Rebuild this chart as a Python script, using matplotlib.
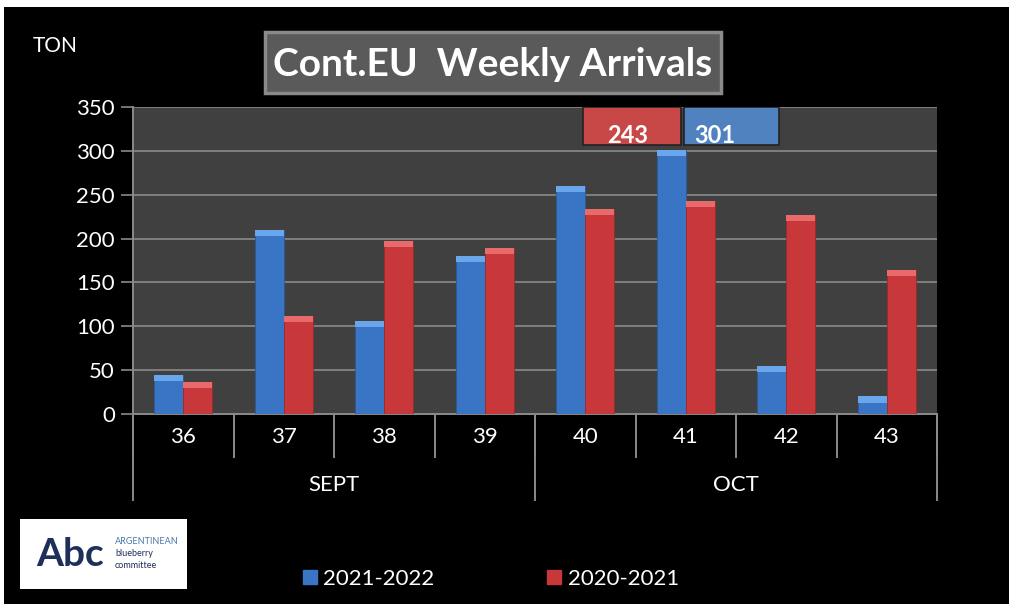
import matplotlib.pyplot as plt
from matplotlib.patches import Rectangle
import numpy as np

weeks = ['36', '37', '38', '39', '40', '41', '42', '43']
months = ['SEPT', 'OCT']
month_span = [4, 4]
y_2122 = [45, 210, 106, 180, 260, 301, 55, 20]
y_2021 = [37, 112, 197, 189, 234, 243, 227, 164]

plt.rcParams['font.family'] = ['Lato', 'DejaVu Sans']

fig = plt.figure(figsize=(10.09, 6.04), dpi=100, facecolor='white')
# black slide background
fig.patches.append(Rectangle((4 / 1009, 0), 1, 1 - 7 / 604, transform=fig.transFigure,
                             facecolor='black', edgecolor='none', zorder=-5))

ax = fig.add_axes([133 / 1009, 1 - 414 / 604, 804 / 1009, 307 / 604])
ax.set_zorder(3)
ax.set_facecolor('#404040')

x = np.arange(len(weeks))
w = 0.29
blue = '#3a74c4'
red = '#c8383a'
ax.bar(x - w / 2, y_2122, width=w, color=blue, edgecolor='#2a5a9a', linewidth=0.6, zorder=3)
ax.bar(x + w / 2, y_2021, width=w, color=red, edgecolor='#9a2a2a', linewidth=0.6, zorder=3)
# light bevel on top of each bar
cap = 7
ax.bar(x - w / 2, [cap] * len(weeks), bottom=np.array(y_2122) - cap, width=w,
       color='#6aa6ec', edgecolor='none', zorder=4)
ax.bar(x + w / 2, [cap] * len(weeks), bottom=np.array(y_2021) - cap, width=w,
       color='#e86a6a', edgecolor='none', zorder=4)

ax.set_xlim(-0.5, len(weeks) - 0.5)
ax.set_ylim(0, 350)
ax.set_yticks(range(0, 351, 50))
ax.grid(axis='y', color='#8a8a8a', linewidth=1.2, zorder=1)
ax.set_axisbelow(True)
ax.tick_params(axis='y', colors='#8a8a8a', labelcolor='white', labelsize=16, length=9, width=1.2, pad=4)
ax.set_xticks([])
for s in ['top', 'right']:
    ax.spines[s].set_visible(False)
for s in ['left', 'bottom']:
    ax.spines[s].set_color('#8a8a8a')
    ax.spines[s].set_linewidth(1.4)

# category axis: week labels, separators, month groups
tr = ax.get_xaxis_transform()
for i, wk in enumerate(weeks):
    ax.text(i, -0.075, wk, transform=tr, ha='center', va='center', color='white', fontsize=16)
for i in range(len(weeks) + 1):
    ax.plot([i - 0.5, i - 0.5], [0, -0.14], transform=tr, color='#8a8a8a', lw=1.4, clip_on=False)
start = 0
for m, n in zip(months, month_span):
    ax.plot([start - 0.5, start - 0.5], [0, -0.28], transform=tr, color='#8a8a8a', lw=1.4, clip_on=False)
    ax.text(start + n / 2 - 0.5, -0.23, m, transform=tr, ha='center', va='center', color='white', fontsize=16)
    start += n
ax.plot([start - 0.5, start - 0.5], [0, -0.28], transform=tr, color='#8a8a8a', lw=1.4, clip_on=False)

# data label boxes for week 41
ax.add_patch(Rectangle((3.98, 307), 0.97, 43, facecolor='#c84848', edgecolor='#222222', lw=1.2, zorder=5))
ax.add_patch(Rectangle((4.98, 307), 0.95, 43, facecolor='#4f82be', edgecolor='#222222', lw=1.2, zorder=5))
ax.text(4.42, 318, str(y_2021[5]), ha='center', va='center', color='white', fontsize=17, fontweight='bold', zorder=6)
ax.text(5.29, 318, str(y_2122[5]), ha='center', va='center', color='white', fontsize=17, fontweight='bold', zorder=6)

# TON label
fig.text(55 / 1009, 1 - 46 / 604, 'TON', ha='center', va='center', color='white', fontsize=15)

# title box
fig.patches.append(Rectangle((265 / 1009, 1 - 93 / 604), 456 / 1009, 61 / 604, transform=fig.transFigure,
                             facecolor='#5a5a5a', edgecolor='#8a8a8a', lw=2.5, zorder=1))
fig.text(493 / 1009, 1 - 64 / 604, 'Cont.EU  Weekly Arrivals', ha='center', va='center',
         color='white', fontsize=28, fontweight='bold')

# logo
fig.patches.append(Rectangle((20 / 1009, 1 - 589 / 604), 167 / 1009, 70 / 604, transform=fig.transFigure,
                             facecolor='white', edgecolor='none', zorder=1))
fig.text(70 / 1009, 1 - 555 / 604, 'Abc', ha='center', va='center', color='#1e2f5a', fontsize=28,
         fontweight='bold')
fig.text(115 / 1009, 1 - 541 / 604, 'ARGENTINEAN', ha='left', va='center', color='#4a78a8', fontsize=6.5)
fig.text(115 / 1009, 1 - 553 / 604, 'blueberry', ha='left', va='center', color='#1e2f5a', fontsize=6.5)
fig.text(115 / 1009, 1 - 565 / 604, 'committee', ha='left', va='center', color='#1e2f5a', fontsize=6.5)

# legend
h1 = plt.Line2D([], [], marker='s', ls='none', color=blue, markersize=10)
h2 = plt.Line2D([], [], marker='s', ls='none', color=red, markersize=10)
fig.legend([h1, h2], ['2021-2022', '2020-2021'], loc='center', bbox_to_anchor=(490 / 1009, 1 - 579 / 604),
           ncol=2, frameon=False, fontsize=16, labelcolor='white', columnspacing=5.0,
           handletextpad=0.2, handlelength=0.8)

fig.savefig('out.png', dpi=100, facecolor='white')
